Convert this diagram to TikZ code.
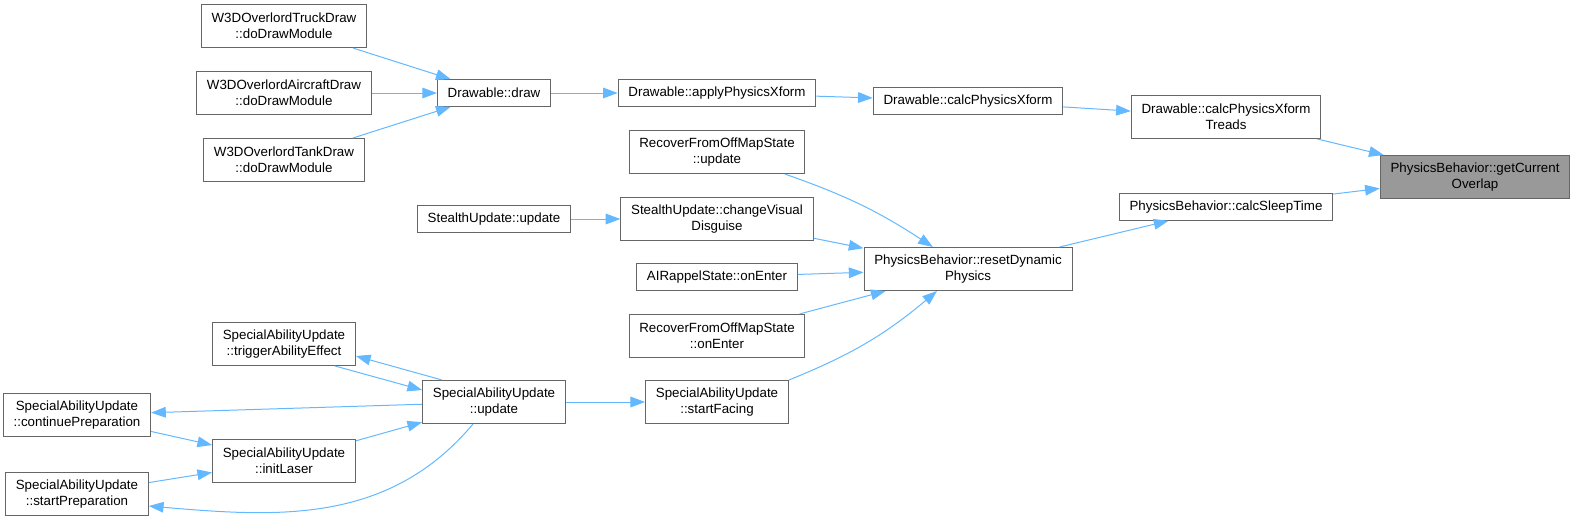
\documentclass[tikz,border=0pt]{standalone}
\usepackage{fontspec}
\setmainfont{Liberation Sans}
\usetikzlibrary{arrows.meta,calc}
\definecolor{edgeblue}{HTML}{63B8FF}
\definecolor{boxgray}{HTML}{666666}
\definecolor{rootgray}{HTML}{999999}
\tikzset{
  fn/.style={draw=boxgray,line width=0.75pt,fill=white,inner xsep=7.7pt,inner ysep=0pt,
    minimum height=20pt,font=\fontsize{10}{12}\selectfont,align=center},
  fntwo/.style={fn,minimum height=32.25pt},
  call/.style={draw=edgeblue,line width=0.75pt,-{Triangle[length=11pt,width=8pt]}}
}
\begin{document}
\begin{tikzpicture}[x=0.75pt,y=-0.75pt]
\useasboundingbox (0,0) rectangle (1575,521);

% drawing chain
\node[fntwo] (truck) at (284,26) {W3DOverlordTruckDraw\\::doDrawModule};
\node[fntwo] (aircraft) at (284,93) {W3DOverlordAircraftDraw\\::doDrawModule};
\node[fntwo] (tank) at (284,160) {W3DOverlordTankDraw\\::doDrawModule};
\node[fn] (drawfn) at (494,93) {Drawable::draw};
\node[fn] (apply) at (717,93) {Drawable::applyPhysicsXform};
\node[fn] (calc) at (968,101) {Drawable::calcPhysicsXform};
\node[fntwo] (treads) at (1226,117) {Drawable::calcPhysicsXform\\Treads};
\node[fntwo,fill=rootgray] (overlap) at (1475,177) {PhysicsBehavior::getCurrent\\Overlap};
\node[fn] (sleep) at (1226,207) {PhysicsBehavior::calcSleepTime};

% reset callers
\node[fntwo] (reset) at (968,269) {PhysicsBehavior::resetDynamic\\Physics};
\node[fntwo] (recupd) at (717,152) {RecoverFromOffMapState\\::update};
\node[fn] (stealth) at (494,219) {StealthUpdate::update};
\node[fntwo] (visual) at (717,219) {StealthUpdate::changeVisual\\Disguise};
\node[fn] (rappel) at (717,277) {AIRappelState::onEnter};
\node[fntwo] (recenter) at (717,336) {RecoverFromOffMapState\\::onEnter};
\node[fntwo] (facing) at (717,402) {SpecialAbilityUpdate\\::startFacing};

% special ability
\node[fntwo] (update) at (494,402) {SpecialAbilityUpdate\\::update};
\node[fntwo] (trigger) at (284,344) {SpecialAbilityUpdate\\::triggerAbilityEffect};
\node[fntwo] (contprep) at (77,415) {SpecialAbilityUpdate\\::continuePreparation};
\node[fntwo] (laser) at (284,461) {SpecialAbilityUpdate\\::initLaser};
\node[fntwo] (startprep) at (77,494) {SpecialAbilityUpdate\\::startPreparation};

\draw[call] (truck) -- (drawfn);
\draw[call] (aircraft) -- (drawfn);
\draw[call] (tank) -- (drawfn);
\draw[call] (drawfn) -- (apply);
\draw[call] (apply) -- (calc);
\draw[call] (calc) -- (treads);
\draw[call] (treads) -- (overlap);
\draw[call] (sleep) -- (overlap);
\draw[call] (reset) -- (sleep);

\draw[call] (recupd) to[bend left=7] (reset);
\draw[call] (visual) -- (reset);
\draw[call] (stealth) -- (visual);
\draw[call] (rappel) -- (reset);
\draw[call] (recenter) -- (reset);
\draw[call] (facing.north east) to[out=22,in=-140] ($(reset.south)+(-31,0)$);
\draw[call] (update) -- (facing);

\draw[call] ($(trigger.south)+(51,0)$) -- ($(update.west)+(0,-12)$);
\draw[call] ($(update.north)+(-52,0)$) -- ($(trigger.east)+(0,12)$);
\draw[call] (update) -- (contprep);
\draw[call] (contprep) -- (laser);
\draw[call] (laser) -- (update);
\draw[call] (startprep) -- (laser);
\draw[call] ($(update.south)+(-21,0)$) to[out=-130,in=-5] ($(startprep.east)+(0,12)$);
\end{tikzpicture}
\end{document}
